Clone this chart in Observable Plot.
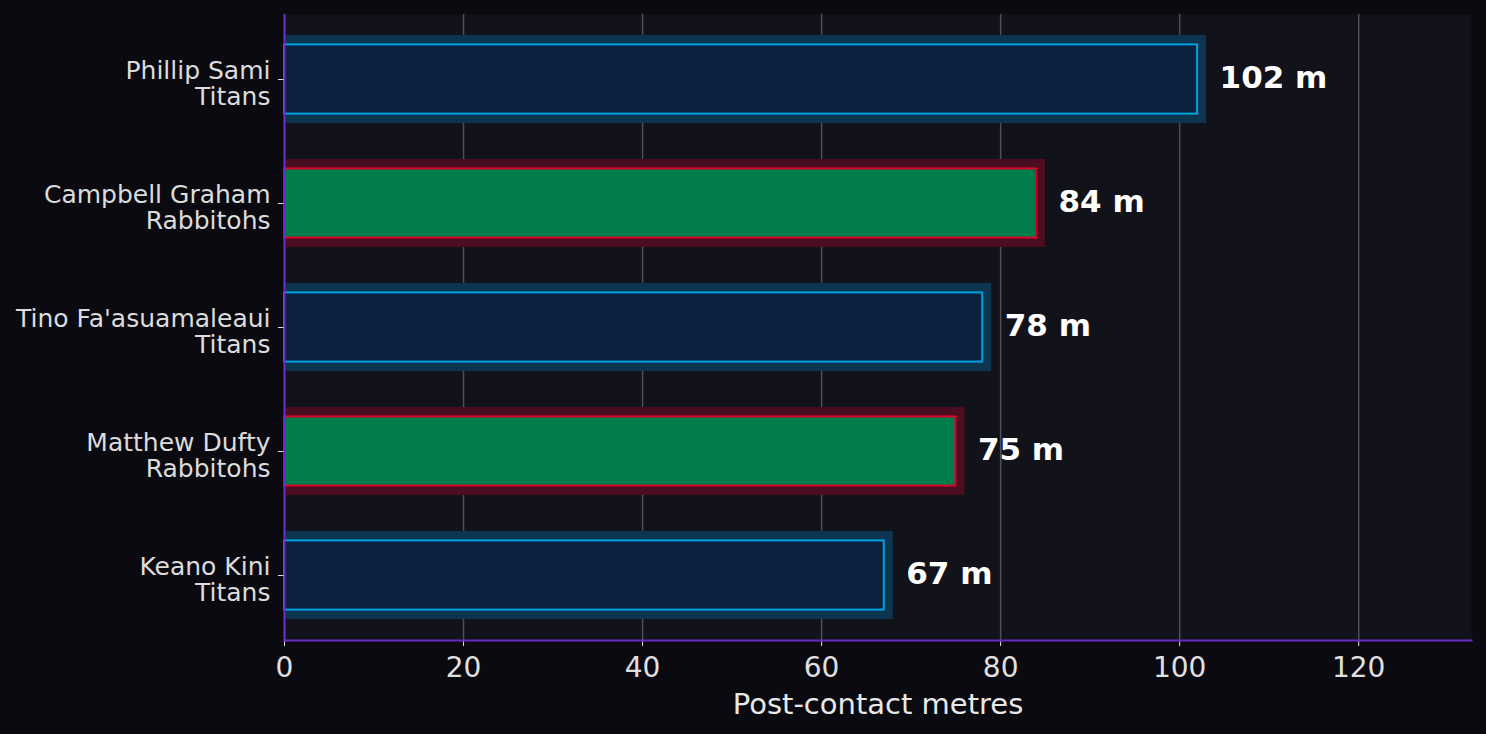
<!DOCTYPE html>
<html>
<head>
<meta charset="utf-8">
<script src="https://cdn.jsdelivr.net/npm/d3@7"></script>
<script src="https://cdn.jsdelivr.net/npm/@observablehq/plot@0.6"></script>
<style>
  html, body { margin: 0; padding: 0; background: #0b0a10; }
  #chart svg { display: block; }
</style>
</head>
<body>
<div id="chart"></div>
<script>
const players = ["Phillip Sami", "Campbell Graham", "Tino Fa'asuamaleaui", "Matthew Dufty", "Keano Kini"];
const teams = ["Titans", "Rabbitohs", "Titans", "Rabbitohs", "Titans"];
const metres = [102, 84, 78, 75, 67];
const xTicks = [0, 20, 40, 60, 80, 100, 120];
const xLabel = "Post-contact metres";
const unit = "m";

const teamStyle = {
  Titans: {glow: "#0e3550", fill: "#0c2240", stroke: "#00a2df"},
  Rabbitohs: {glow: "#4a0e20", fill: "#007d4a", stroke: "#e0002a"}
};

const data = players.map((p, i) => ({key: p + "\n" + teams[i], player: p, team: teams[i], value: metres[i]}));
const keys = data.map(d => d.key);

const font = "DejaVu Sans, sans-serif";
const purple = "#6a2bc4";
const barMarks = [];
for (const team of Object.keys(teamStyle)) {
  const s = teamStyle[team];
  const sub = data.filter(d => d.team === team);
  barMarks.push(Plot.barX(sub, {x1: 0, x2: "value", y: "key", fill: s.glow, insetTop: 18, insetBottom: 18, insetRight: -9}));
}
for (const team of Object.keys(teamStyle)) {
  const s = teamStyle[team];
  const sub = data.filter(d => d.team === team);
  barMarks.push(Plot.barX(sub, {x1: 0, x2: "value", y: "key", fill: s.fill, stroke: s.stroke, strokeWidth: 2, insetTop: 27.4, insetBottom: 27.4}));
}

const chart = Plot.plot({
  width: 1486,
  height: 734,
  marginLeft: 284,
  marginRight: 15,
  marginTop: 14,
  marginBottom: 94,
  style: {background: "#0b0a10", fontFamily: font, overflow: "visible"},
  x: {type: "linear", domain: [0, 132.6]},
  y: {domain: keys, padding: 0, range: [15.6, 639.4], axis: null},
  marks: [
    Plot.frame({fill: "#12121a", stroke: null}),
    Plot.gridX(xTicks, {stroke: "#4e4e56", strokeOpacity: 1, strokeWidth: 1.5}),
    ...barMarks,
    Plot.text(data, {x: "value", y: "key", text: d => `${d.value} ${unit}`, textAnchor: "start", dx: 22, dy: -1, fill: "#ffffff", fontWeight: "bold", fontSize: 31, fontFamily: font}),
    Plot.axisY({tickSize: 6, tickFormat: () => "", stroke: "#dcdcdc", label: null}),
    Plot.text(data, {x: 0, y: "key", text: "key", textAnchor: "end", dx: -14, dy: 4, fontSize: 25, lineHeight: 1.07, fill: "#dcdcdc", fontFamily: font}),
    Plot.axisX(xTicks, {tickSize: 6, tickPadding: 11, fontSize: 28, color: "#e0e0e0", stroke: "#e0e0e0", label: null, fontFamily: font}),
    Plot.text([xLabel], {frameAnchor: "bottom", lineAnchor: "middle", dy: 64, fontSize: 29, fill: "#e8e8e8", fontFamily: font}),
    Plot.frame({anchor: "bottom", stroke: purple, strokeWidth: 2}),
    Plot.ruleX([0], {stroke: purple, strokeWidth: 2})
  ]
});

document.getElementById("chart").append(chart);
</script>
</body>
</html>
